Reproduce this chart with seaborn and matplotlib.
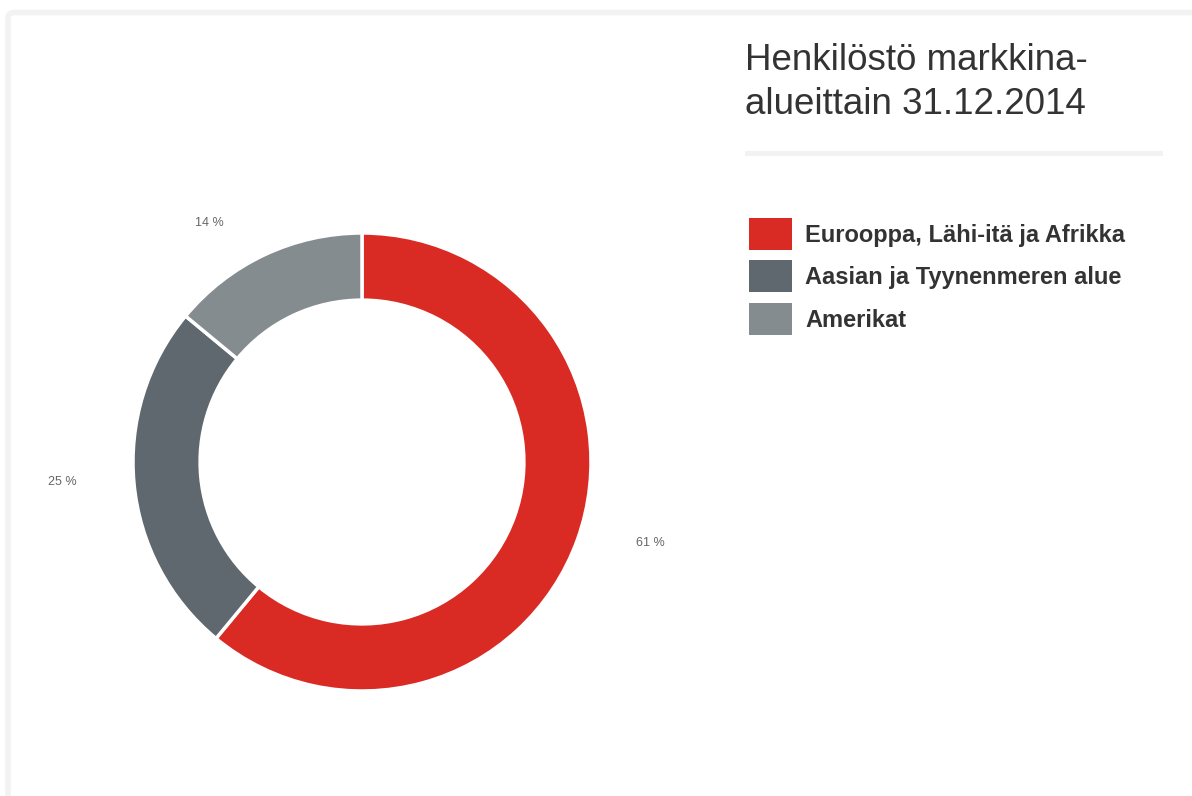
import matplotlib
matplotlib.use("Agg")
import matplotlib.pyplot as plt
from matplotlib.patches import FancyBboxPatch, Rectangle
import seaborn as sns

categories = ["Eurooppa, Lähi-itä ja Afrikka", "Aasian ja Tyynenmeren alue", "Amerikat"]
values = [61, 25, 14]
colors = ["#d92a23", "#5e686e", "#858c8f"]
title = "Henkilöstö markkina-\nalueittain 31.12.2014"

sns.set_theme(style="white")
plt.rcParams['font.family'] = ['Liberation Sans', 'DejaVu Sans']

W, H = 1192, 796
fig = plt.figure(figsize=(W / 100, H / 100), dpi=100)
fig.patch.set_facecolor("white")

# frame border
bg = fig.add_axes([0, 0, 1, 1])
bg.set_xlim(0, W)
bg.set_ylim(H, 0)
bg.axis("off")
bg.add_patch(FancyBboxPatch((8, 12.5), W + 40, H + 40,
                            boxstyle="round,pad=0,rounding_size=6",
                            fill=False, edgecolor="#f2f2f2", linewidth=4))
# separator under title
bg.add_patch(Rectangle((745, 151), 418, 4.5, color="#f2f2f2", lw=0))

# donut
cx, cy, r = 362, 462, 229
ax = fig.add_axes([(cx - r) / W, (H - cy - r) / H, 2 * r / W, 2 * r / H])
wedges, texts = ax.pie(
    values, colors=colors, startangle=90, counterclock=False,
    radius=1.0, labels=[f"{v} %" for v in values], labeldistance=1.31,
    wedgeprops=dict(width=0.293, edgecolor="white", linewidth=2.5),
    textprops=dict(fontsize=9, color="#666666"),
)
# data-label placement (outside the ring, as in the reference layout)
label_xy = [(1.258, -0.354), (-1.31, -0.087), (-0.668, 1.044)]
for t, xy in zip(texts, label_xy):
    t.set_position(xy)
    t.set_ha("center")
    t.set_va("center")
ax.set_xlim(-1, 1)
ax.set_ylim(-1, 1)
ax.set_aspect("equal")
ax.axis("off")

# title
fig.text(745 / W, 1 - 43 / H, title, fontsize=26.5, color="#333333",
         va="top", ha="left", linespacing=1.32)

# legend
leg = fig.legend(wedges, categories, loc="upper left",
                 bbox_to_anchor=(749 / W, 1 - 218 / H), frameon=False,
                 handlelength=1.82, handleheight=1.71, handletextpad=0.55,
                 labelspacing=0.44, borderaxespad=0, borderpad=0,
                 prop=dict(size=17, weight="bold"))
for t in leg.get_texts():
    t.set_color("#333333")
for h in leg.legend_handles:
    h.set_edgecolor("none")

fig.savefig("out.png", dpi=100, facecolor="white")
